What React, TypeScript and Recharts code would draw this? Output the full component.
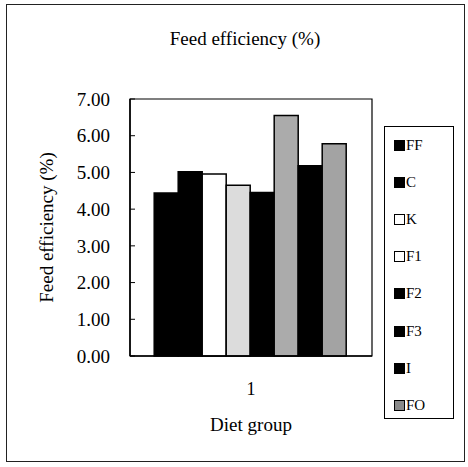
import React from 'react';
import { BarChart, Bar, XAxis, YAxis, ReferenceArea } from 'recharts';

const categories = ['1'];
const seriesNames = ['FF', 'C', 'K', 'F1', 'F2', 'F3', 'I', 'FO'];
const seriesValues = [4.44, 5.02, 4.96, 4.65, 4.45, 6.55, 5.18, 5.78];
const barFills = ['#000000', '#000000', '#ffffff', '#dcdcdc', '#000000', '#ababab', '#000000', '#a3a3a3'];
const legendFills = ['#000000', '#000000', '#ffffff', '#ffffff', '#000000', '#000000', '#000000', '#8a8a8a'];
const yTicks = [0, 1, 2, 3, 4, 5, 6, 7];

const data = categories.map((c) => {
  const row: Record<string, string | number> = { name: c };
  seriesNames.forEach((s, i) => {
    row[s] = seriesValues[i];
  });
  return row;
});

const FONT = '"Liberation Serif", "Times New Roman", serif';

const LegendBox = () => (
  <div
    style={{
      position: 'absolute',
      left: 384,
      top: 126,
      width: 70,
      height: 293,
      border: '1px solid #000',
      boxSizing: 'border-box',
      paddingTop: 0,
      fontFamily: FONT,
      fontSize: 15,
      color: '#000',
    }}
  >
    {seriesNames.map((s, i) => (
      <div
        key={s}
        style={{
          position: 'absolute',
          left: 9,
          top: 18 + i * 37.2 - 9,
          height: 18,
          display: 'flex',
          alignItems: 'center',
        }}
      >
        <span
          style={{
            display: 'inline-block',
            width: 9,
            height: 9,
            background: legendFills[i],
            border: '1.5px solid #000',
            marginRight: 1,
          }}
        />
        <span>{s}</span>
      </div>
    ))}
  </div>
);

const YLabel = (props: any) => {
  const vb = props.viewBox || {};
  const x = 46;
  const y = (vb.y ?? 99) + (vb.height ?? 257) / 2;
  return (
    <text
      x={x}
      y={y}
      transform={`rotate(-90 ${x} ${y})`}
      textAnchor="middle"
      dominantBaseline="central"
      fontFamily={FONT}
      fontSize={19}
      fill="#000"
    >
      Feed efficiency (%)
    </text>
  );
};

export default function App() {
  return (
    <div style={{ position: 'absolute', left: 0, top: 0, width: 468, height: 467, background: '#fff' }}>
      <div
        style={{
          position: 'absolute',
          left: 6,
          top: 4,
          width: 459,
          height: 458,
          border: '1px solid #222',
          boxSizing: 'border-box',
        }}
      />
      <div
        style={{
          position: 'absolute',
          left: 0,
          top: 28,
          width: 490,
          textAlign: 'center',
          fontFamily: FONT,
          fontSize: 19,
          color: '#000',
        }}
      >
        Feed efficiency (%)
      </div>
      <BarChart
        width={468}
        height={467}
        data={data}
        margin={{ top: 99, right: 96, left: 0, bottom: 0 }}
        barCategoryGap="10%"
        barGap={0}
        style={{ position: 'absolute', left: 0, top: 0 }}
      >
        <XAxis
          dataKey="name"
          height={111}
          tickLine={false}
          axisLine={{ stroke: '#000', strokeWidth: 1.5 }}
          tick={{ fill: '#000', fontFamily: FONT, fontSize: 18 }}
          tickMargin={20}
          label={{
            value: 'Diet group',
            position: 'insideTop',
            offset: 62,
            fill: '#000',
            fontFamily: FONT,
            fontSize: 19,
          }}
        />
        <YAxis
          width={130}
          domain={[0, 7]}
          ticks={yTicks}
          interval={0}
          tickFormatter={(v: number) => v.toFixed(2)}
          tickSize={-5}
          tickMargin={25}
          tickLine={{ stroke: '#000' }}
          axisLine={{ stroke: '#000', strokeWidth: 1.5 }}
          tick={{ fill: '#000', fontFamily: FONT, fontSize: 19 }}
          label={<YLabel />}
        />
        <ReferenceArea y1={0} y2={7} fill="none" stroke="#000" strokeWidth={1.2} ifOverflow="visible" />
        {seriesNames.map((s, i) => (
          <Bar
            key={s}
            dataKey={s}
            fill={barFills[i]}
            stroke="#000"
            strokeWidth={1.5}
            isAnimationActive={false}
          />
        ))}
      </BarChart>
      <LegendBox />
    </div>
  );
}
